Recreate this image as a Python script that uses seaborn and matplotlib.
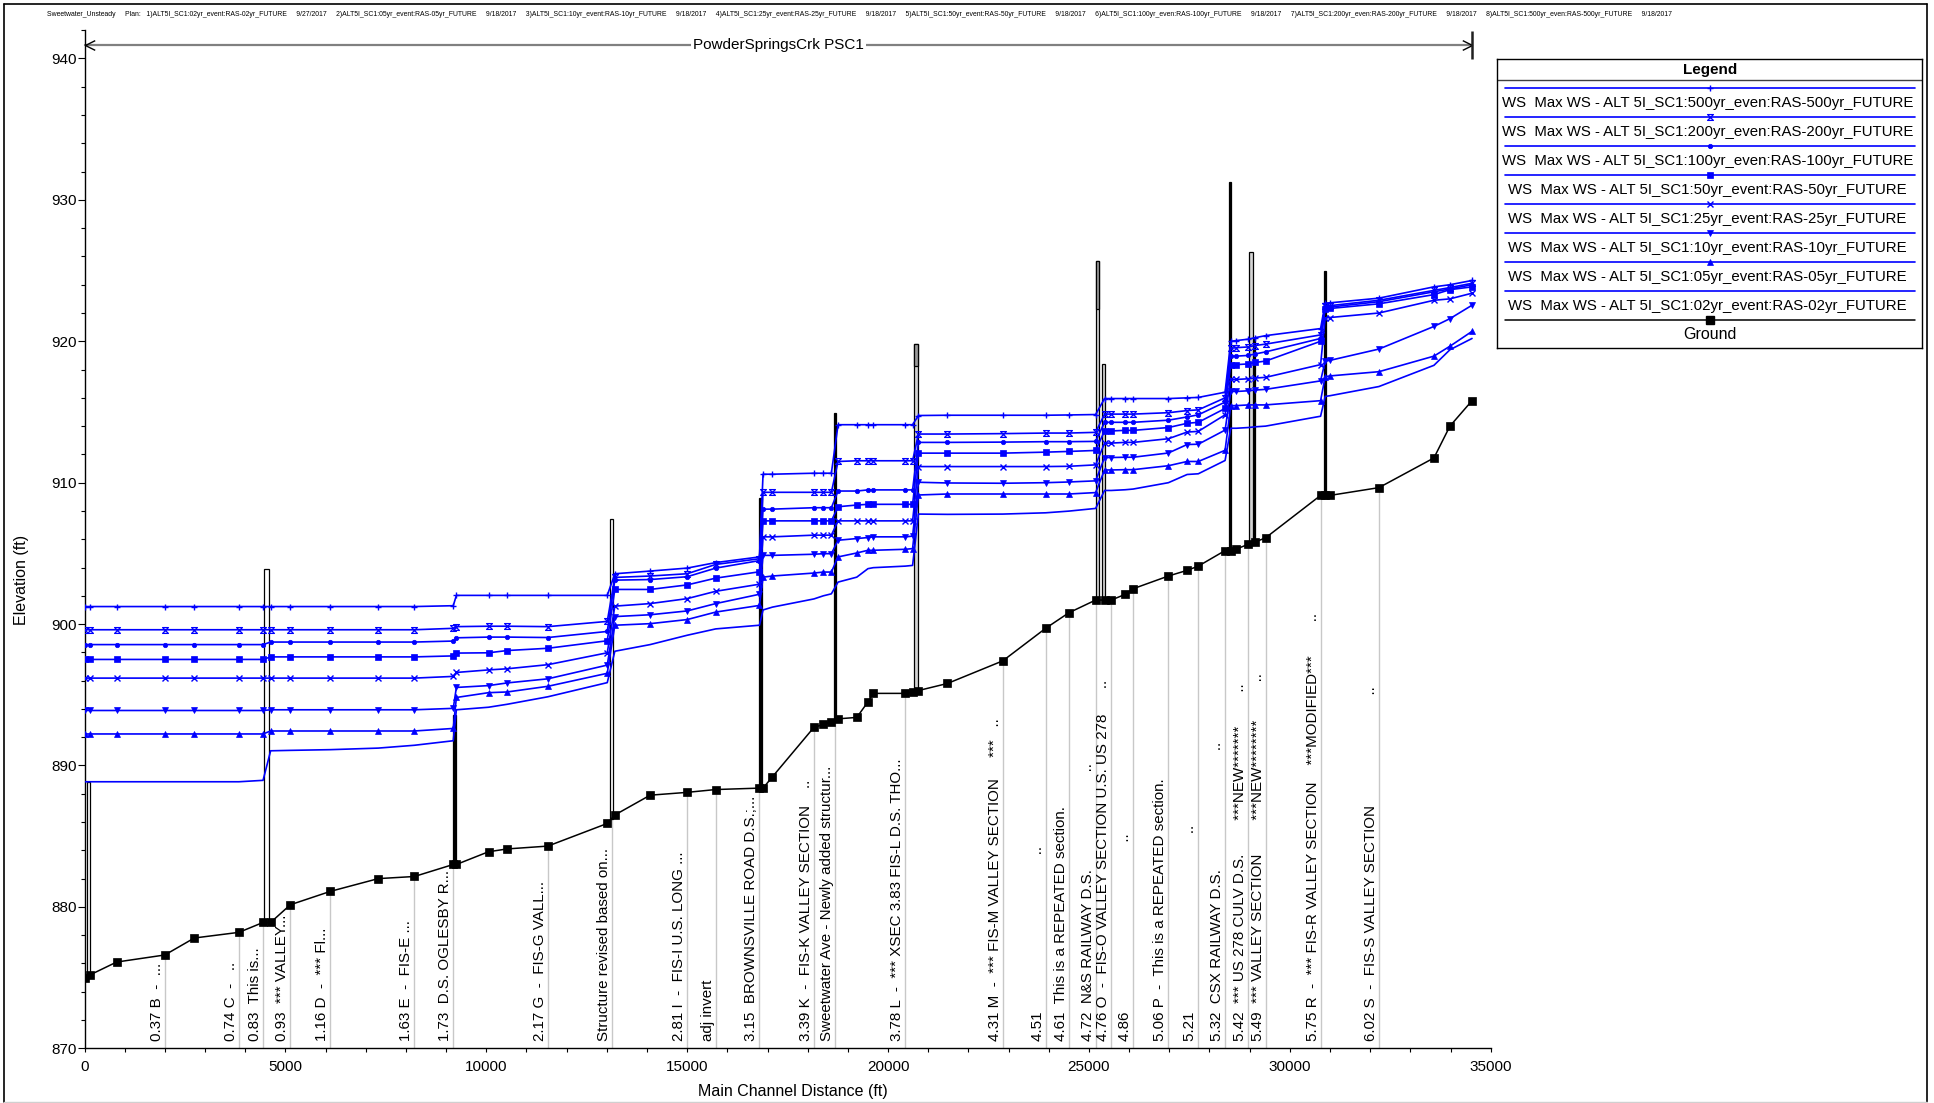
import numpy as np
import matplotlib
matplotlib.use("Agg")
import matplotlib.pyplot as plt
import matplotlib.transforms as mtransforms
from matplotlib.lines import Line2D
from matplotlib.path import Path
from matplotlib.ticker import MultipleLocator
import seaborn as sns

sns.set_theme(style="ticks")
plt.rcParams["font.family"] = ["Liberation Sans", "DejaVu Sans"]
for key in ("text.color", "axes.labelcolor", "xtick.color", "ytick.color", "axes.edgecolor"):
    plt.rcParams[key] = "black"

# ---------------------------------------------------------------- data
# cross-section stations along the main channel (ft)
station = [0, 144, 800, 2000, 2733, 3844, 4444, 4633, 5122, 6122,
           7311, 8211, 9178, 9256, 10056, 10522, 11533, 13011, 13200, 14078,
           15000, 15711, 16800, 16889, 17122, 18156, 18389, 18589, 18756, 19222,
           19500, 19633, 20433, 20611, 20756, 21478, 22856, 23922, 24500, 25167,
           25389, 25556, 25900, 26100, 26978, 27444, 27722, 28389, 28530, 28667,
           28967, 29131, 29397, 30766, 30880, 30998, 32218, 33587, 33985, 34535]

# channel invert (ft)
ground = [875.0, 875.2, 876.1, 876.6, 877.8, 878.2, 878.9, 878.9, 880.15, 881.1,
          882.0, 882.15, 883.0, 883.0, 883.9, 884.1, 884.3, 885.9, 886.5, 887.9,
          888.1, 888.3, 888.4, 888.4, 889.2, 892.7, 892.9, 893.1, 893.3, 893.4,
          894.5, 895.1, 895.1, 895.2, 895.3, 895.8, 897.4, 899.7, 900.8, 901.7,
          901.7, 901.7, 902.1, 902.5, 903.4, 903.8, 904.1, 905.2, 905.2, 905.3,
          905.65, 905.8, 906.1, 909.1, 909.1, 909.1, 909.65, 911.75, 914.0, 915.8]

# maximum water surface elevation for each profile (ft)
ws_500 = [901.24] * 12 + [901.3,
          902.03, 902.03, 902.03, 902.03, 902.03,
          903.56, 903.75, 903.96, 904.35, 904.75,
          910.6, 910.6, 910.67, 910.67, 910.67,
          914.1, 914.1, 914.1, 914.1, 914.1, 914.1,
          914.75, 914.77, 914.77, 914.77, 914.79, 914.82,
          915.95, 915.95, 915.95, 915.95, 915.95, 916.0, 916.03, 916.4,
          920.0, 920.05, 920.15, 920.25, 920.4,
          920.9, 922.7, 922.72, 923.05, 923.85, 924.0, 924.3]
ws_200 = [899.6] * 12 + [899.7,
          899.82, 899.85, 899.85, 899.82, 900.19,
          903.3, 903.4, 903.56, 904.22, 904.62,
          909.32, 909.32, 909.32, 909.32, 909.32,
          911.5, 911.55, 911.55, 911.55, 911.55, 911.55,
          913.44, 913.44, 913.47, 913.51, 913.51, 913.56,
          914.85, 914.85, 914.85, 914.85, 914.95, 915.1, 915.15, 916.0,
          919.5, 919.55, 919.6, 919.7, 919.8,
          920.45, 922.5, 922.52, 922.9, 923.6, 923.8, 924.1]
ws_100 = [898.55] * 7 + [898.73] * 5 + [898.8,
          899.03, 899.08, 899.08, 899.05, 899.48,
          903.11, 903.15, 903.35, 903.96, 904.49,
          908.13, 908.13, 908.23, 908.23, 908.23,
          909.41, 909.41, 909.49, 909.49, 909.49, 909.49,
          912.85, 912.85, 912.87, 912.9, 912.9, 912.92,
          914.27, 914.27, 914.27, 914.27, 914.42, 914.65, 914.8, 915.7,
          918.95, 918.95, 919.0, 919.1, 919.25,
          920.2, 922.4, 922.42, 922.8, 923.5, 923.7, 924.0]
ws_50 = [897.5] * 7 + [897.68] * 5 + [897.75,
         897.95, 897.97, 898.13, 898.29, 898.82,
         902.45, 902.45, 902.77, 903.25, 903.7,
         907.3, 907.3, 907.3, 907.3, 907.3,
         908.3, 908.42, 908.47, 908.47, 908.47, 908.47,
         912.09, 912.09, 912.09, 912.16, 912.21, 912.28,
         913.66, 913.66, 913.7, 913.7, 913.9, 914.2, 914.27, 915.25,
         918.35, 918.35, 918.4, 918.5, 918.6,
         920.0, 922.3, 922.32, 922.65, 923.3, 923.65, 923.85]
ws_25 = [896.18] * 12 + [896.3,
         896.58, 896.76, 896.84, 897.13, 897.97,
         901.27, 901.45, 901.8, 902.32, 902.82,
         906.17, 906.17, 906.29, 906.29, 906.29,
         907.3, 907.3, 907.3, 907.3, 907.3, 907.3,
         911.14, 911.14, 911.14, 911.14, 911.16, 911.26,
         912.8, 912.8, 912.85, 912.85, 913.11, 913.58, 913.63, 914.8,
         917.3, 917.3, 917.35, 917.4, 917.45,
         918.35, 921.65, 921.68, 922.0, 922.9, 923.0, 923.4]
ws_10 = [893.89] * 7 + [893.94] * 5 + [894.04,
         895.52, 895.65, 895.84, 896.13, 897.1,
         900.53, 900.66, 900.93, 901.45, 902.11,
         904.86, 904.86, 904.94, 904.98, 904.98,
         905.93, 906.05, 906.12, 906.17, 906.17, 906.22,
         910.03, 909.98, 909.96, 910.0, 910.05, 910.13,
         911.78, 911.78, 911.8, 911.8, 912.1, 912.7, 912.72, 913.72,
         916.45, 916.45, 916.5, 916.55, 916.6,
         917.2, 918.6, 918.65, 919.45, 921.05, 921.6, 922.55]
ws_05 = [892.23] * 7 + [892.44] * 5 + [892.62,
         894.81, 895.15, 895.2, 895.6, 896.52,
         899.92, 900.03, 900.32, 900.85, 901.32,
         903.32, 903.4, 903.61, 903.68, 903.68,
         904.75, 905.03, 905.22, 905.22, 905.29, 905.34,
         909.13, 909.2, 909.2, 909.2, 909.2, 909.3,
         910.9, 910.9, 910.92, 910.92, 911.2, 911.5, 911.5, 912.29,
         915.45, 915.45, 915.5, 915.5, 915.5,
         915.8, 917.5, 917.55, 917.85, 918.95, 919.65, 920.7]
ws_02 = [888.85] * 6 + [888.95, 891.04, 891.07, 891.12, 891.23, 891.43, 891.75,
         893.94, 894.12, 894.33, 894.86, 895.86,
         898.08, 898.55, 899.21, 899.66, 899.92,
         901.0, 901.2, 901.78, 902.0, 902.14,
         902.97, 903.32, 903.92, 903.99, 904.1, 904.15,
         907.78, 907.76, 907.78, 907.87, 907.99, 908.18,
         909.45, 909.45, 909.5, 909.55, 910.0, 910.58, 910.63, 911.57,
         913.85, 913.85, 913.9, 913.95, 914.0,
         914.7, 916.1, 916.15, 916.8, 918.3, 919.4, 920.2]

profiles = ["500yr", "200yr", "100yr", "50yr", "25yr", "10yr", "05yr", "02yr"]
ws_values = [ws_500, ws_200, ws_100, ws_50, ws_25, ws_10, ws_05, ws_02]

legend_labels = [
    "WS  Max WS - ALT 5I_SC1:500yr_even:RAS-500yr_FUTURE",
    "WS  Max WS - ALT 5I_SC1:200yr_even:RAS-200yr_FUTURE",
    "WS  Max WS - ALT 5I_SC1:100yr_even:RAS-100yr_FUTURE",
    "WS  Max WS - ALT 5I_SC1:50yr_event:RAS-50yr_FUTURE",
    "WS  Max WS - ALT 5I_SC1:25yr_event:RAS-25yr_FUTURE",
    "WS  Max WS - ALT 5I_SC1:10yr_event:RAS-10yr_FUTURE",
    "WS  Max WS - ALT 5I_SC1:05yr_event:RAS-05yr_FUTURE",
    "WS  Max WS - ALT 5I_SC1:02yr_event:RAS-02yr_FUTURE",
]

# bridges / culverts along the reach: extent (ft), top elevation (ft), type
struct_left = [60, 4467, 9178, 13078, 16800, 18656, 20644, 25167, 25333, 28495, 28990, 29100, 30852]
struct_right = [140, 4589, 9256, 13144, 16855, 18711, 20744, 25244, 25400, 28525, 29090, 29125, 30905]
struct_top = [888.85, 903.9, 893.6, 907.4, 908.9, 914.9, 919.8, 925.7, 918.4, 931.3, 926.3, 920.2, 925.0]
struct_chord = [None, None, None, None, None, None, 918.25, 922.3, None, None, None, None, None]
struct_kind = ["culvert", "culvert", "deck", "culvert", "deck", "deck", "bridge", "bridge",
               "bridge", "deck", "bridge", "deck", "deck"]

# river station descriptions
label_station = [2000, 3844, 4444, 5122, 6122, 8211, 9178, 11533, 13133, 15000,
                 15711, 16800, 18156, 18689, 20433, 22856, 23922, 24500, 25167, 25556,
                 26100, 26978, 27722, 28389, 28967, 29397, 30766, 32218]
label_text = [
    "0.37 B  -  ...",
    "0.74 C  -   ..",
    "0.83  This is...",
    "0.93  *** VALLEY...",
    "1.16 D  -  *** Fl...",
    "1.63 E  -  FIS-E ...",
    "1.73  D.S. OGLESBY R...",
    "2.17 G  -  FIS-G VALL...",
    "Structure revised based on...",
    "2.81 I  -  FIS-I U.S. LONG ...",
    "adj invert",
    "3.15  BROWNSVILLE ROAD D.S.;...",
    "3.39 K  -  FIS-K VALLEY SECTION    ..",
    "Sweetwater Ave - Newly added structur...",
    "3.78 L  -  *** XSEC 3.83 FIS-L D.S. THO...",
    "4.31 M  -  *** FIS-M VALLEY SECTION     ***   ..",
    "4.51" + " " * 37 + "..",
    "4.61  This is a REPEATED section.",
    "4.72  N&S RAILWAY D.S." + " " * 23 + "..",
    "4.76 O  -  FIS-O VALLEY SECTION U.S. US 278" + " " * 6 + "..",
    "4.86" + " " * 40 + "..",
    "5.06 P  -  This is a REPEATED section.",
    "5.21" + " " * 42 + "..",
    "5.32  CSX RAILWAY D.S." + " " * 28 + "..",
    "5.42  *** US 278 CULV D.S." + " " * 8 + "***NEW*******" + " " * 8 + "..",
    "5.49  *** VALLEY SECTION" + " " * 8 + "***NEW********" + " " * 9 + "..",
    "5.75 R  -  *** FIS-R VALLEY SECTION" + " " * 4 + "***MODIFIED***" + " " * 8 + "..",
    "6.02 S  -  FIS-S VALLEY SECTION" + " " * 26 + "..",
]

reach_name = "PowderSpringsCrk PSC1"
plan_line = ("Sweetwater_Unsteady     Plan:   1)ALT5I_SC1:02yr_event:RAS-02yr_FUTURE     9/27/2017     "
             "2)ALT5I_SC1:05yr_event:RAS-05yr_FUTURE     9/18/2017     "
             "3)ALT5I_SC1:10yr_event:RAS-10yr_FUTURE     9/18/2017     "
             "4)ALT5I_SC1:25yr_event:RAS-25yr_FUTURE     9/18/2017     "
             "5)ALT5I_SC1:50yr_event:RAS-50yr_FUTURE     9/18/2017     "
             "6)ALT5I_SC1:100yr_even:RAS-100yr_FUTURE     9/18/2017     "
             "7)ALT5I_SC1:200yr_even:RAS-200yr_FUTURE     9/18/2017     "
             "8)ALT5I_SC1:500yr_even:RAS-500yr_FUTURE     9/18/2017")

# ---------------------------------------------------------------- figure
W, H = 1934, 1103
fig = plt.figure(figsize=(W / 100, H / 100), dpi=100)
fig.patch.set_facecolor("white")


def fx(px):
    return px / W


def fy(py):
    return 1 - py / H


ax = fig.add_axes([fx(84.5), fy(1048.3), fx(1490.7) - fx(84.5), fy(30.2) - fy(1048.3)])
ax.set_facecolor("white")
ax.set_xlim(0, 35000)
ax.set_ylim(870, 942)

BLUE = "#0000ff"
hourglass = Path([(-1, 1), (1, 1), (-1, -1), (1, -1), (-1, 1)],
                 [Path.MOVETO, Path.LINETO, Path.LINETO, Path.LINETO, Path.CLOSEPOLY])

marker_kw = {
    "500yr": dict(marker="+", markersize=5, markeredgewidth=1.0, markerfacecolor=BLUE),
    "200yr": dict(marker=hourglass, markersize=4.2, markeredgewidth=0.9, markerfacecolor="none"),
    "100yr": dict(marker="o", markersize=3.2, markeredgewidth=0.5, markerfacecolor=BLUE),
    "50yr": dict(marker="s", markersize=4.0, markeredgewidth=0.5, markerfacecolor=BLUE),
    "25yr": dict(marker="x", markersize=4.0, markeredgewidth=1.0, markerfacecolor=BLUE),
    "10yr": dict(marker="v", markersize=4.6, markeredgewidth=0.5, markerfacecolor=BLUE),
    "05yr": dict(marker="^", markersize=4.6, markeredgewidth=0.5, markerfacecolor=BLUE),
    "02yr": dict(),
}

ground_arr = np.asarray(ground)
station_arr = np.asarray(station)

# station description leaders and labels
lab_ground = np.interp(label_station, station_arr, ground_arr)
ax.vlines(label_station, 870, lab_ground, color="#c8c8c8", lw=1.0, zorder=1)
label_tr = mtransforms.offset_copy(ax.transData, fig=fig, x=-1.0, y=0, units="dots")
for xs, txt in zip(label_station, label_text):
    ax.text(xs, 870.5, txt, rotation=90, ha="right", va="bottom", fontsize=10.9,
            color="black", transform=label_tr, zorder=2)

# structures
kind_fill = {"culvert": "white", "deck": "black", "bridge": "#d4d4d4"}
for l, r, top, chord, kind in zip(struct_left, struct_right, struct_top, struct_chord, struct_kind):
    mid = 0.5 * (l + r)
    base = float(np.interp(mid, station_arr, ground_arr))
    ax.bar(mid, top - base, width=r - l, bottom=base, color=kind_fill[kind],
           edgecolor="black", linewidth=0.9, zorder=2)
    if chord is not None:
        ax.bar(mid, top - chord, width=r - l, bottom=chord, color="#9a9a9a",
               edgecolor="black", linewidth=0.9, zorder=2)

# water surface profiles
for name, vals in zip(profiles, ws_values):
    sns.lineplot(x=station, y=vals, ax=ax, color=BLUE, linewidth=1.2,
                 markeredgecolor=BLUE, estimator=None, sort=False, legend=False,
                 zorder=3, **marker_kw[name])

# ground profile
sns.lineplot(x=station, y=ground, ax=ax, color="black", linewidth=1.1, marker="s",
             markersize=5.2, markeredgecolor="black", markerfacecolor="black",
             markeredgewidth=0.5, estimator=None, sort=False, legend=False, zorder=4)

# reach arrow across the top
arrow_y = 940.95
reach_start, reach_end = station[0], station[-1]
ax.plot([reach_start, reach_end], [arrow_y, arrow_y], color="#808080", lw=1.6,
        zorder=2, clip_on=False)
chev_l = Path([(2, 1), (0, 0), (2, -1)], [Path.MOVETO, Path.LINETO, Path.LINETO])
chev_r = Path([(-2, 1), (0, 0), (-2, -1)], [Path.MOVETO, Path.LINETO, Path.LINETO])
ax.plot([reach_start], [arrow_y], marker=chev_l, markersize=14, markerfacecolor="none",
        markeredgecolor="black", markeredgewidth=1.0, clip_on=False, zorder=3)
ax.plot([reach_end], [arrow_y], marker=chev_r, markersize=14, markerfacecolor="none",
        markeredgecolor="black", markeredgewidth=1.0, clip_on=False, zorder=3)
ax.plot([reach_end], [arrow_y], marker="|", markersize=20, markeredgewidth=1.8,
        markeredgecolor="#202020", clip_on=False, zorder=3)
ax.text(0.5 * (reach_start + reach_end), arrow_y, reach_name, ha="center", va="center",
        fontsize=11, zorder=5, bbox=dict(facecolor="white", edgecolor="none", pad=1.5))

# axes styling
for side in ("top", "right"):
    ax.spines[side].set_visible(False)
for side in ("left", "bottom"):
    ax.spines[side].set_color("black")
    ax.spines[side].set_linewidth(1.0)
ax.xaxis.set_major_locator(MultipleLocator(5000))
ax.xaxis.set_minor_locator(MultipleLocator(1000))
ax.yaxis.set_major_locator(MultipleLocator(10))
ax.yaxis.set_minor_locator(MultipleLocator(2))
ax.tick_params(axis="both", which="both", direction="out", color="black",
               labelsize=11, labelcolor="black", width=0.8)
ax.tick_params(axis="y", which="major", length=4.8, pad=1)
ax.tick_params(axis="y", which="minor", length=3.2)
ax.tick_params(axis="x", which="both", length=3.1, pad=5)
ax.set_xlabel("")
ax.set_ylabel("")

fig.text(fx(22), fy(580), "Elevation (ft)", rotation=90, ha="center", va="center", fontsize=11.5)
fig.text(fx(793), fy(1091.6), "Main Channel Distance (ft)", ha="center", va="center", fontsize=11.5)

# plan information line
title = fig.text(fx(47), fy(15), plan_line, ha="left", va="center", fontsize=5.2)
fig.canvas.draw()
tw = title.get_window_extent().width
title.set_fontsize(5.2 * 1645 / tw)

# legend panel
lx0, lx1, ly0, ly1 = 1497.3, 1921.6, 59.3, 348.0
lax = fig.add_axes([fx(lx0), fy(ly1), fx(lx1) - fx(lx0), fy(ly0) - fy(ly1)])
lax.set_xlim(lx0, lx1)
lax.set_ylim(ly1, ly0)
lax.set_xticks([])
lax.set_yticks([])
lax.set_facecolor("white")
for s in lax.spines.values():
    s.set_visible(True)
    s.set_color("black")
    s.set_linewidth(1.0)
lax.text(1710, 70, "Legend", ha="center", va="center", fontsize=11, fontweight="bold")
lax.plot([lx0, lx1], [80, 80], color="#404040", lw=1.0)
row0, row_h, mid_x = 88.3, 29.0, 1710
for i, (name, lab) in enumerate(zip(profiles, legend_labels)):
    y = row0 + i * row_h
    lax.plot([1505, 1915], [y, y], color=BLUE, lw=1.2)
    if marker_kw[name]:
        lax.plot([mid_x], [y], color=BLUE, markeredgecolor=BLUE, **marker_kw[name])
    tx = 1502 if i < 3 else 1508
    lax.text(tx, y + 15, lab, ha="left", va="center", fontsize=10.8)
yg = row0 + 8 * row_h
lax.plot([1505, 1915], [yg, yg], color="black", lw=1.1)
lax.plot([mid_x], [yg], marker="s", markersize=5.2, color="black")
lax.text(mid_x, yg + 14.5, "Ground", ha="center", va="center", fontsize=11.5)

# page frame
frame = dict(transform=fig.transFigure, lw=1.2, color="black")
fig.add_artist(Line2D([fx(4), fx(1927)], [fy(4), fy(4)], **frame))
fig.add_artist(Line2D([fx(4), fx(4)], [fy(4), fy(1102)], **frame))
fig.add_artist(Line2D([fx(1927), fx(1927)], [fy(4), fy(1102)], **frame))
fig.add_artist(Line2D([fx(4), fx(1927)], [fy(1102), fy(1102)], transform=fig.transFigure,
                      lw=1.0, color="#d0d0d0"))

fig.savefig("out.png", dpi=100, facecolor="white")
